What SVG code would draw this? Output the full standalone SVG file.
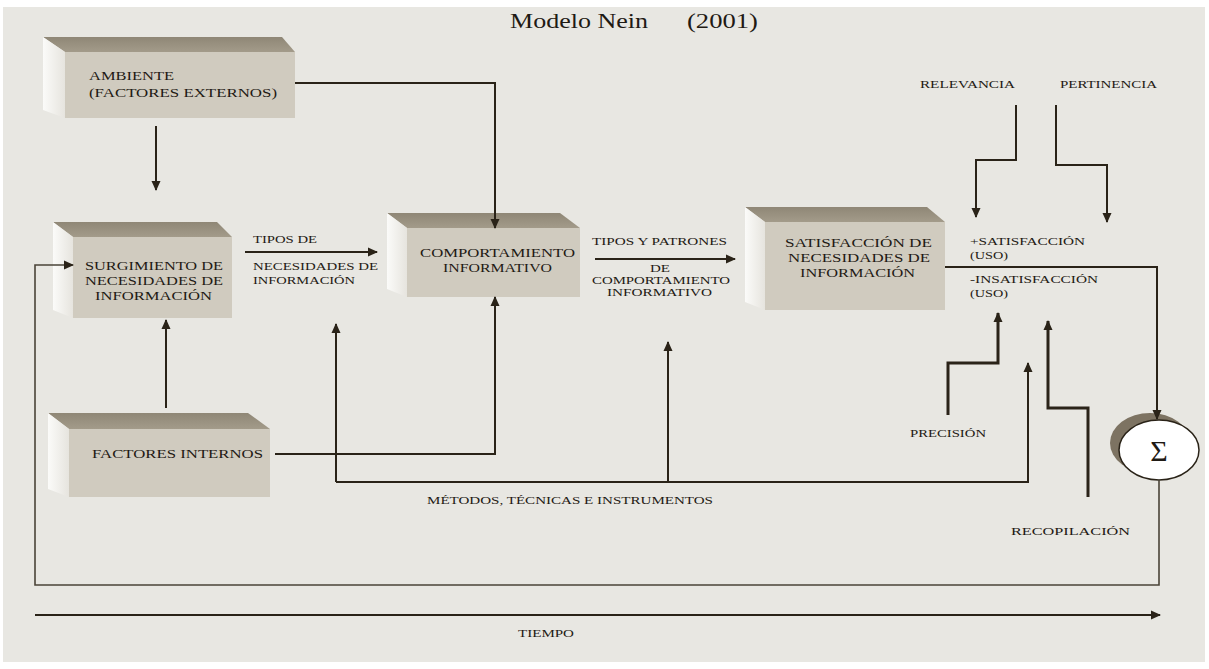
<svg xmlns="http://www.w3.org/2000/svg" width="1209" height="669" viewBox="0 0 1209 669">
<defs>
<linearGradient id="gTop" x1="0" y1="0" x2="0" y2="1"><stop offset="0" stop-color="#8f8776"/><stop offset="1" stop-color="#a39b8a"/></linearGradient>
<linearGradient id="gSide" x1="0" y1="0" x2="1" y2="0"><stop offset="0" stop-color="#fbfbf9"/><stop offset="1" stop-color="#e6e4de"/></linearGradient>
<marker id="ah" markerWidth="12" markerHeight="12" refX="9" refY="6" orient="auto" markerUnits="userSpaceOnUse"><path d="M0,1.5 L10,6 L0,10.5 Z" fill="#2a2318"/></marker>
</defs>
<style>
.top{fill:url(#gTop)}
.side{fill:url(#gSide)}
.front{fill:#d0cbbf}
.t{font-family:"Liberation Serif","Times New Roman",serif;fill:#1f1a14;font-size:12.5px}
.s{font-size:11px}
.c{stroke:#2a2318;stroke-width:2;fill:none}
.th{stroke-width:3}
.fb{stroke:#4a4438;stroke-width:1.6}
</style>
<rect x="0" y="0" width="1209" height="669" fill="#ffffff"/>
<rect x="3" y="7" width="1202" height="655" fill="#e8e7e2"/>
<text class="t" x="510" y="28" style="font-size:20px" textLength="138" lengthAdjust="spacingAndGlyphs">Modelo Nein</text>
<text class="t" x="687" y="28" style="font-size:20px" textLength="71" lengthAdjust="spacingAndGlyphs">(2001)</text>

<g id="ambiente">
<polygon class="top" points="43,37 282,37 295,52 65,52"/>
<polygon class="side" points="43,37 65,52 65,118 43,110"/>
<rect class="front" x="65" y="52" width="230" height="66"/>
<text class="t" x="89" y="80" textLength="85" lengthAdjust="spacingAndGlyphs">AMBIENTE</text>
<text class="t" x="89" y="97" textLength="188" lengthAdjust="spacingAndGlyphs">(FACTORES EXTERNOS)</text>
</g>

<g id="surgimiento">
<polygon class="top" points="53,222 217,222 232,237 73,237"/>
<polygon class="side" points="53,222 73,237 73,318 53,310"/>
<rect class="front" x="73" y="237" width="159" height="81"/>
<text class="t" x="85" y="270" textLength="138" lengthAdjust="spacingAndGlyphs">SURGIMIENTO DE</text>
<text class="t" x="85" y="285" textLength="138" lengthAdjust="spacingAndGlyphs">NECESIDADES DE</text>
<text class="t" x="95" y="300" textLength="117" lengthAdjust="spacingAndGlyphs">INFORMACIÓN</text>
</g>

<g id="comportamiento">
<polygon class="top" points="387,213 560,213 580,228 407,228"/>
<polygon class="side" points="387,213 407,228 407,297 387,289"/>
<rect class="front" x="407" y="228" width="173" height="69"/>
<text class="t" x="420" y="257" textLength="155" lengthAdjust="spacingAndGlyphs">COMPORTAMIENTO</text>
<text class="t" x="443" y="272" textLength="109" lengthAdjust="spacingAndGlyphs">INFORMATIVO</text>
</g>

<g id="satisfaccion">
<polygon class="top" points="745,207 927,207 945,222 765,222"/>
<polygon class="side" points="745,207 765,222 765,310 745,302"/>
<rect class="front" x="765" y="222" width="180" height="88"/>
<text class="t" x="785" y="247" textLength="147" lengthAdjust="spacingAndGlyphs">SATISFACCIÓN DE</text>
<text class="t" x="788" y="262" textLength="142" lengthAdjust="spacingAndGlyphs">NECESIDADES DE</text>
<text class="t" x="800" y="277" textLength="115" lengthAdjust="spacingAndGlyphs">INFORMACIÓN</text>
</g>

<g id="factores-internos">
<polygon class="top" points="48,413 248,413 270,429 69,429"/>
<polygon class="side" points="48,413 69,429 69,497 48,489"/>
<rect class="front" x="69" y="429" width="201" height="68"/>
<text class="t" x="92" y="458" textLength="171" lengthAdjust="spacingAndGlyphs">FACTORES INTERNOS</text>
</g>

<g id="sigma">
<ellipse cx="1150" cy="443" rx="40" ry="30" fill="#7d7362"/>
<ellipse cx="1159" cy="450" rx="40" ry="30" fill="#ffffff" stroke="#2a2318" stroke-width="1.5"/>
<text class="t" x="1159" y="461" text-anchor="middle" style="font-size:30px">Σ</text>
</g>

<g id="connectors">
<path class="c" d="M156,126 V190" marker-end="url(#ah)"/>
<path class="c" d="M295,83 H495 V228" marker-end="url(#ah)"/>
<path class="c" d="M245,252 H377" marker-end="url(#ah)"/>
<path class="c" d="M595,259 H735" marker-end="url(#ah)"/>
<path class="c" d="M166,408 V320" marker-end="url(#ah)"/>
<path class="c" d="M275,454 H495 V297" marker-end="url(#ah)"/>
<path class="c" d="M336,482 V324" marker-end="url(#ah)"/>
<path class="c" d="M336,482 H1028 V363" marker-end="url(#ah)"/>
<path class="c" d="M668,482 V342" marker-end="url(#ah)"/>
<path class="c" d="M1016,105 V160 H976 V217" marker-end="url(#ah)"/>
<path class="c" d="M1056,105 V165 H1107 V222" marker-end="url(#ah)"/>
<path class="c th" d="M948,415 V363 H998 V313" marker-end="url(#ah)"/>
<path class="c th" d="M1088,497 V408 H1048 V321" marker-end="url(#ah)"/>
<path class="c" d="M945,267 H1157 V419" marker-end="url(#ah)"/>
<path class="c fb" d="M1159,480 V585 H35 V265 H73" marker-end="url(#ah)"/>
<path class="c" d="M35,615 H1160" marker-end="url(#ah)"/>
</g>

<g id="labels">
<text class="t s" x="253" y="243" textLength="64" lengthAdjust="spacingAndGlyphs">TIPOS DE</text>
<text class="t s" x="253" y="270" textLength="125" lengthAdjust="spacingAndGlyphs">NECESIDADES DE</text>
<text class="t s" x="253" y="284" textLength="102" lengthAdjust="spacingAndGlyphs">INFORMACIÓN</text>
<text class="t s" x="592" y="245" textLength="135" lengthAdjust="spacingAndGlyphs">TIPOS Y PATRONES</text>
<text class="t s" x="650" y="272" textLength="20" lengthAdjust="spacingAndGlyphs">DE</text>
<text class="t s" x="592" y="284" textLength="138" lengthAdjust="spacingAndGlyphs">COMPORTAMIENTO</text>
<text class="t s" x="607" y="296" textLength="105" lengthAdjust="spacingAndGlyphs">INFORMATIVO</text>
<text class="t s" x="920" y="88" textLength="95" lengthAdjust="spacingAndGlyphs">RELEVANCIA</text>
<text class="t s" x="1060" y="88" textLength="97" lengthAdjust="spacingAndGlyphs">PERTINENCIA</text>
<text class="t s" x="970" y="245" textLength="115" lengthAdjust="spacingAndGlyphs">+SATISFACCIÓN</text>
<text class="t s" x="970" y="259" textLength="38" lengthAdjust="spacingAndGlyphs">(USO)</text>
<text class="t s" x="970" y="283" textLength="128" lengthAdjust="spacingAndGlyphs">-INSATISFACCIÓN</text>
<text class="t s" x="970" y="297" textLength="38" lengthAdjust="spacingAndGlyphs">(USO)</text>
<text class="t s" x="910" y="437" textLength="76" lengthAdjust="spacingAndGlyphs">PRECISIÓN</text>
<text class="t s" x="1011" y="535" textLength="119" lengthAdjust="spacingAndGlyphs">RECOPILACIÓN</text>
<text class="t s" x="427" y="504" textLength="286" lengthAdjust="spacingAndGlyphs">MÉTODOS, TÉCNICAS E INSTRUMENTOS</text>
<text class="t" x="518" y="637" style="font-size:10px" textLength="56" lengthAdjust="spacingAndGlyphs">TIEMPO</text>
</g>
</svg>
